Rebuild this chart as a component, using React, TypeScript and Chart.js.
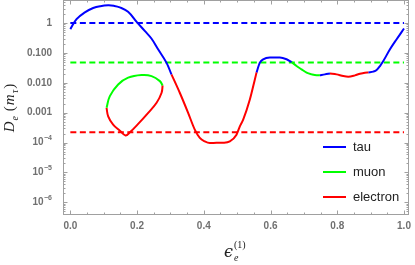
import React, { useEffect, useRef } from "react";
import { Chart, registerables } from "chart.js";

Chart.register(...registerables);

// ---- axis ticks ----
const xTickValues = [0, 0.2, 0.4, 0.6, 0.8, 1.0];
const xTickLabels = ["0.0", "0.2", "0.4", "0.6", "0.8", "1.0"];
const yTickValues = [1e-6, 1e-5, 1e-4, 1e-3, 1e-2, 1e-1, 1];
const yTickMain = ["10", "10", "10", "0.001", "0.010", "0.100", "1"];
const yTickSup = ["−6", "−5", "−4", "", "", "", ""];

// ---- reference (dashed) levels ----
const refFlavors = ["tau", "muon", "electron"];
const refValues = [1, 0.048, 0.00022];
const refX = [0, 1];

// ---- main curve, split by which flavour it follows ----
const seg1TauX = [0.0, 0.0186, 0.0435, 0.0684, 0.09, 0.1133, 0.13, 0.148, 0.173, 0.2, 0.223, 0.243, 0.263, 0.288, 0.303];
const seg1TauY = [0.628, 1.364, 2.29, 3.2, 3.7, 3.94, 3.8, 3.38, 2.4, 1.056, 0.551, 0.305, 0.133, 0.0475, 0.0192];

const seg2ElX = [0.303, 0.328, 0.353, 0.373, 0.388, 0.403, 0.418, 0.438, 0.458, 0.478, 0.498, 0.508, 0.518, 0.538, 0.553, 0.558];
const seg2ElY = [0.0192, 0.00464, 0.000985, 0.00027, 0.000142, 0.000109, 0.0000962, 0.0000975, 0.0000985, 0.000109, 0.000183, 0.000348, 0.000586, 0.00276, 0.013, 0.022];

const seg3TauX = [0.558, 0.568, 0.578, 0.598, 0.628, 0.648, 0.663];
const seg3TauY = [0.022, 0.0475, 0.0614, 0.07, 0.07, 0.0614, 0.0498];

const seg4MuX = [0.663, 0.678, 0.693, 0.708, 0.723, 0.738, 0.748];
const seg4MuY = [0.0498, 0.0365, 0.0283, 0.0219, 0.0192, 0.0178, 0.0178];

const seg5TauX = [0.748, 0.763, 0.778];
const seg5TauY = [0.0178, 0.0192, 0.0205];

const seg6ElX = [0.778, 0.798, 0.818, 0.833, 0.853, 0.868, 0.883, 0.893];
const seg6ElY = [0.0205, 0.0192, 0.0168, 0.016, 0.0178, 0.0202, 0.0219, 0.0222];

const seg7TauX = [0.893, 0.908, 0.918, 0.928, 0.938, 0.958, 0.978, 1.0];
const seg7TauY = [0.0222, 0.0237, 0.0268, 0.0365, 0.0538, 0.133, 0.289, 0.66];

// ---- closed loop on the left ----
const loopMuX = [0.1085, 0.1184, 0.1433, 0.1733, 0.2135, 0.2435, 0.2684, 0.2765];
const loopMuY = [0.00145, 0.00357, 0.00883, 0.01485, 0.01817, 0.01682, 0.0114, 0.00817];

const loopElX = [0.2765, 0.2735, 0.2585, 0.2333, 0.2033, 0.1784, 0.1655, 0.1484, 0.1283, 0.1134, 0.1085];
const loopElY = [0.00817, 0.00464, 0.00214, 0.000985, 0.00042, 0.000219, 0.000173, 0.000249, 0.000397, 0.000757, 0.00145];

const COLORS: Record<string, string> = {
  tau: "#0000ff",
  muon: "#00ff00",
  electron: "#ff0000",
};

const segments: [string, number[], number[], boolean][] = [
  ["tau", seg1TauX, seg1TauY, false],
  ["electron", seg2ElX, seg2ElY, true],
  ["tau", seg3TauX, seg3TauY, true],
  ["muon", seg4MuX, seg4MuY, true],
  ["tau", seg5TauX, seg5TauY, true],
  ["electron", seg6ElX, seg6ElY, true],
  ["tau", seg7TauX, seg7TauY, true],
  ["muon", loopMuX, loopMuY, false],
  ["electron", loopElX, loopElY, false],
];

const FRAME = "#a0a0a0";
const TICK_TEXT = "#707070";

const framePlugin = {
  id: "frameTicks",
  beforeDatasetsDraw(chart: any) {
    const { ctx, chartArea: a, scales } = chart;
    const xs = scales.x;
    const ys = scales.y;
    ctx.save();
    ctx.strokeStyle = FRAME;
    ctx.lineWidth = 1;
    ctx.strokeRect(a.left + 0.5, a.top + 0.5, a.right - a.left - 1, a.bottom - a.top - 1);
    ctx.beginPath();
    for (let i = 0; i <= 20; i++) {
      const v = i * 0.05;
      const px = Math.round(xs.getPixelForValue(v)) + 0.5;
      const len = i % 4 === 0 ? 4.5 : 2.5;
      ctx.moveTo(px, a.bottom);
      ctx.lineTo(px, a.bottom - len);
      ctx.moveTo(px, a.top);
      ctx.lineTo(px, a.top + len);
    }
    for (let d = -7; d <= 1; d++) {
      for (let m = 1; m <= 9; m++) {
        const v = m * Math.pow(10, d);
        if (v < ys.min || v > ys.max) continue;
        const py = Math.round(ys.getPixelForValue(v)) + 0.5;
        const len = m === 1 ? 4.5 : 2.5;
        ctx.moveTo(a.left, py);
        ctx.lineTo(a.left + len, py);
        ctx.moveTo(a.right, py);
        ctx.lineTo(a.right - len, py);
      }
    }
    ctx.stroke();
    // y tick labels with real superscripts
    ctx.fillStyle = TICK_TEXT;
    ctx.textBaseline = "middle";
    ctx.textAlign = "right";
    const L = a.left - 11;
    yTickValues.forEach((v, i) => {
      const py = ys.getPixelForValue(v);
      let r = L;
      if (yTickSup[i]) {
        ctx.font = "bold 7px 'Liberation Sans'";
        ctx.fillText(yTickSup[i], r, py - 4);
        r -= ctx.measureText(yTickSup[i]).width + 0.5;
      }
      ctx.font = "bold 10px 'Liberation Sans'";
      ctx.fillText(yTickMain[i], r, py);
    });
    ctx.restore();
  },
};

const titlePlugin = {
  id: "titles",
  afterDraw(chart: any) {
    const { ctx, chartArea: a } = chart;
    ctx.save();
    ctx.fillStyle = "#222";
    ctx.textBaseline = "alphabetic";
    ctx.textAlign = "left";
    // y title, rotated
    const parts: [string, string, number][] = [
      ["D", "italic 15px 'Liberation Serif'", 0],
      ["e", "italic 10px 'Liberation Serif'", 4],
      [" (", "15px 'Liberation Serif'", 0],
      ["m", "italic 15px 'Liberation Serif'", 0],
      ["τ", "italic 10px 'Liberation Serif'", 4],
      [")", "15px 'Liberation Serif'", 0],
    ];
    let total = 0;
    for (const [t, f] of parts) {
      ctx.font = f;
      total += ctx.measureText(t).width + 1;
    }
    const cy = (a.top + a.bottom) / 2;
    ctx.translate(14, cy + total / 2);
    ctx.rotate(-Math.PI / 2);
    let x = 0;
    for (const [t, f, dy] of parts) {
      ctx.font = f;
      ctx.fillText(t, x, dy);
      x += ctx.measureText(t).width + 1;
    }
    ctx.setTransform(1, 0, 0, 1, 0, 0);
    // x title
    const cx = (a.left + a.right) / 2;
    ctx.font = "italic 16px 'DejaVu Serif'";
    const ew = ctx.measureText("ϵ").width;
    const x0 = cx - 12;
    ctx.fillText("ϵ", x0, 257);
    ctx.font = "10px 'Liberation Serif'";
    ctx.fillText("(1)", x0 + ew + 1, 248);
    ctx.font = "italic 10px 'Liberation Serif'";
    ctx.fillText("e", x0 + ew + 1, 261);
    ctx.restore();
  },
};

const legendPlugin = {
  id: "insideLegend",
  afterDraw(chart: any) {
    const { ctx, chartArea: a } = chart;
    ctx.save();
    ctx.font = "13px 'Liberation Sans'";
    ctx.textBaseline = "middle";
    ctx.textAlign = "left";
    refFlavors.forEach((f, i) => {
      const y = a.bottom - 68 + i * 25;
      ctx.strokeStyle = COLORS[f];
      ctx.lineWidth = 2;
      ctx.beginPath();
      ctx.moveTo(a.right - 86, y);
      ctx.lineTo(a.right - 63, y);
      ctx.stroke();
      ctx.fillStyle = "#222";
      ctx.fillText(f, a.right - 56, y);
    });
    ctx.restore();
  },
};

export default function App() {
  const ref = useRef<HTMLCanvasElement | null>(null);
  useEffect(() => {
    document.body.style.margin = "0";
    const canvas = ref.current!;
    const datasets: any[] = [];
    segments.forEach(([f, xs, ys, mono]) => {
      datasets.push({
        label: f,
        data: xs.map((x, i) => ({ x, y: ys[i] })),
        borderColor: COLORS[f],
        backgroundColor: COLORS[f],
        borderWidth: 2,
        pointRadius: 0,
        tension: 0.4,
        cubicInterpolationMode: mono ? "monotone" : "default",
        fill: false,
      });
    });
    refFlavors.forEach((f, i) => {
      datasets.push({
        label: f + " ref",
        data: refX.map((x) => ({ x, y: refValues[i] })),
        borderColor: COLORS[f],
        borderWidth: 2,
        borderDash: [6, 3.5],
        pointRadius: 0,
        tension: 0,
        fill: false,
      });
    });
    const chart = new Chart(canvas, {
      type: "line",
      data: { datasets },
      plugins: [framePlugin, titlePlugin, legendPlugin],
      options: {
        animation: false,
        responsive: false,
        devicePixelRatio: 1,
        layout: { padding: { top: 0, right: 6, left: 0, bottom: 0 } },
        plugins: { legend: { display: false }, tooltip: { enabled: false } },
        scales: {
          x: {
            type: "linear",
            min: -0.022,
            max: 1.015,
            grid: { display: false, drawTicks: true, tickLength: 5 },
            border: { display: false },
            afterBuildTicks: (s: any) => {
              s.ticks = xTickValues.map((v) => ({ value: v }));
            },
            afterFit: (s: any) => {
              s.height = 50;
              s.paddingLeft = 0;
              s.paddingRight = 0;
            },
            ticks: {
              padding: 0,
              maxRotation: 0,
              autoSkip: false,
              color: TICK_TEXT,
              font: { family: "'Liberation Sans'", size: 10, weight: "bold" },
              callback: (v: any) => {
                const i = xTickValues.findIndex((t) => Math.abs(t - v) < 1e-9);
                return i >= 0 ? xTickLabels[i] : "";
              },
            },
          },
          y: {
            type: "logarithmic",
            min: 3.73e-7,
            max: 5.95,
            grid: { display: false, drawTicks: false },
            border: { display: false },
            afterBuildTicks: (s: any) => {
              s.ticks = yTickValues.map((v) => ({ value: v }));
            },
            afterFit: (s: any) => {
              s.width = 63;
              s.paddingTop = 0;
              s.paddingBottom = 0;
            },
            ticks: { display: false },
          },
        },
      },
    });
    return () => chart.destroy();
  }, []);
  return (
    <div style={{ position: "absolute", left: 0, top: 0, width: 415, height: 265 }}>
      <canvas ref={ref} width={415} height={265} style={{ width: 415, height: 265 }} />
    </div>
  );
}
